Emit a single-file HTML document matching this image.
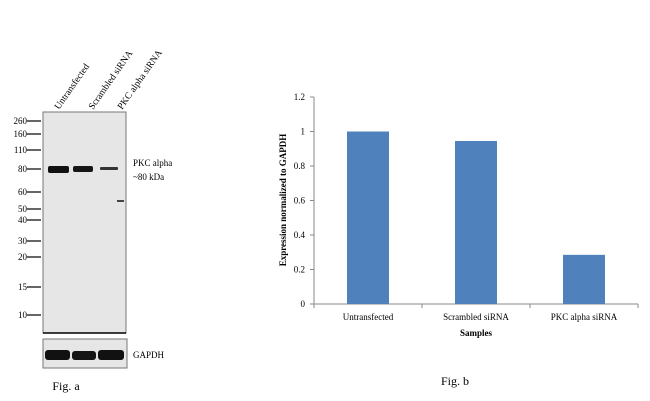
<!DOCTYPE html>
<html><head><meta charset="utf-8"><style>
body{margin:0;background:#fff;width:650px;height:401px;overflow:hidden;font-family:"Liberation Serif",serif;}
svg{display:block}
</style></head><body>
<svg width="650" height="401" xmlns="http://www.w3.org/2000/svg">
<g id="blot" font-family="Liberation Serif, serif" font-size="9" fill="#000">
  <rect x="43" y="112" width="83" height="221" fill="#e6e6e6" stroke="#777" stroke-width="1"/>
  <line x1="43" y1="333" x2="126" y2="333" stroke="#000" stroke-width="1.5"/>
  <rect x="43" y="339" width="84" height="29" fill="#e6e6e6" stroke="#777" stroke-width="1"/>
  <g id="markers"></g>
  <g>
    <rect x="48" y="166" width="21" height="7" rx="2" fill="#111"/>
    <rect x="73" y="166" width="20" height="6" rx="2" fill="#151515"/>
    <rect x="100" y="167" width="18" height="3" rx="1" fill="#333"/>
    <rect x="117" y="200" width="7" height="2" fill="#444"/>
    <rect x="45" y="350" width="25" height="10" rx="3" fill="#111"/>
    <rect x="72" y="351" width="24" height="9" rx="3" fill="#151515"/>
    <rect x="98" y="350" width="26" height="10" rx="3" fill="#111"/>
  </g>
  <text transform="translate(59,110) rotate(-55)" font-size="9.5">Untransfected</text>
  <text transform="translate(93,110) rotate(-55)" font-size="9.5">Scrambled siRNA</text>
  <text transform="translate(122,110) rotate(-55)" font-size="9.5">PKC alpha siRNA</text>
  <text x="133" y="166">PKC alpha</text>
  <text x="133" y="180">~80 kDa</text>
  <text x="133" y="358">GAPDH</text>
  <text x="66" y="390" font-size="12" text-anchor="middle">Fig. a</text>
</g>
<g id="chart" font-family="Liberation Serif, serif" font-size="9" fill="#000"></g>
<text x="455" y="385" font-size="12" text-anchor="middle" font-family="Liberation Serif, serif">Fig. b</text>
</svg>
<script>
const markerLabels=["260","160","110","80","60","50","40","30","20","15","10"];
const markerY=[121,134,150,169,192,209,220,241,257,287,315];
const categories=["Untransfected","Scrambled siRNA","PKC alpha siRNA"];
const values=[1.0,0.945,0.285];
const yTicks=[0,0.2,0.4,0.6,0.8,1,1.2];
const NS="http://www.w3.org/2000/svg";
function mk(t,a,p){const e=document.createElementNS(NS,t);for(const k in a)e.setAttribute(k,a[k]);p.appendChild(e);return e;}
const mg=document.getElementById('markers');
markerLabels.forEach((l,i)=>{
  const t=mk('text',{x:27,y:markerY[i]+3,'text-anchor':'end'},mg);t.textContent=l;
  
  
  const ln=mk('line',{x1:27,x2:41,y1:markerY[i],y2:markerY[i],stroke:'#000','stroke-width':1.2},mg);
  
  
});
const g=document.getElementById('chart');
const x0=314,x1=638,yb=304,yt=97,ymax=1.2;
const y=v=>yb-(v/ymax)*(yb-yt);
const bw=(x1-x0)/categories.length;
const ax=mk('line',{x1:x0,x2:x0,y1:yt,y2:yb,stroke:'#888'},g);


const bx=mk('line',{x1:x0,x2:x1,y1:yb,y2:yb,stroke:'#888'},g);


yTicks.forEach(v=>{
  mk('line',{x1:x0-4,x2:x0,y1:y(v),y2:y(v),stroke:'#888'},g);
  const t=mk('text',{x:x0-9,y:y(v)+3,'text-anchor':'end'},g);t.textContent=String(v);
  
  
});
for(let i=0;i<=categories.length;i++)mk('line',{x1:x0+i*bw,x2:x0+i*bw,y1:yb,y2:yb+4,stroke:'#888'},g);
categories.forEach((c,i)=>{
  const cx=x0+bw*(i+0.5);
  const r=mk('rect',{x:cx-21,y:y(values[i]),width:42,height:yb-y(values[i]),fill:'#4f81bd'},g);
  
  
  const t=mk('text',{x:cx,y:yb+16,'text-anchor':'middle'},g);t.textContent=c;
  
  
});
const xt=mk('text',{x:(x0+x1)/2,y:336,'text-anchor':'middle','font-weight':'bold'},g);xt.textContent='Samples';


const yti=mk('text',{transform:'translate(286,200) rotate(-90)','text-anchor':'middle','font-weight':'bold'},g);yti.textContent='Expression normalized to GAPDH';


</script>
</body></html>
